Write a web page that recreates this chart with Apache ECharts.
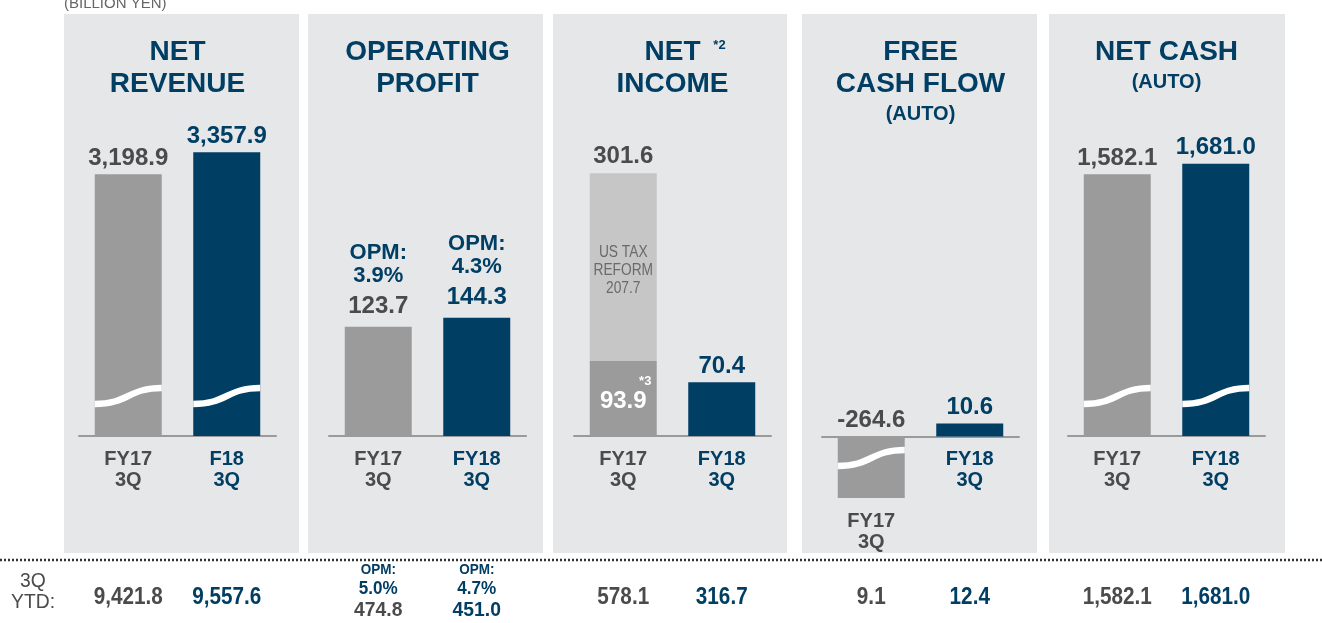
<!DOCTYPE html>
<html>
<head>
<meta charset="utf-8">
<title>3Q results</title>
<script src="https://cdn.jsdelivr.net/npm/echarts@6/dist/echarts.min.js"></script>
<style>
  html, body { margin: 0; padding: 0; background: #fff; }
  #chart { width: 1322px; height: 623px; }
</style>
</head>
<body>
<div id="chart"></div>
<script>
// values (billion yen)
const categories = ['FY17\n3Q', 'FY18\n3Q']
const revenueCategories = ['FY17\n3Q', 'F18\n3Q'] // printed like this on the slide
const netRevenue = [3198.9, 3357.9]
const operatingProfit = [123.7, 144.3]
const operatingMargin = ['3.9%', '4.3%']
const netIncome = [301.6, 70.4]
const netIncomeExTax = [93.9]
const usTaxReform = [207.7]
const freeCashFlow = [-264.6, 10.6]
const netCash = [1582.1, 1681.0]
const ytdNetRevenue = [9421.8, 9557.6]
const ytdOperatingProfit = [474.8, 451.0]
const ytdOperatingMargin = ['5.0%', '4.7%']
const ytdNetIncome = [578.1, 316.7]
const ytdFreeCashFlow = [9.1, 12.4]
const ytdNetCash = [1582.1, 1681.0]

const NAVY = '#003e64'
const GREY_BAR = '#9b9b9b'
const LIGHT_BAR = '#c6c6c6'
const GREY_TEXT = '#4b4b4b'
const PANEL_BG = '#e6e7e9'
const FONT = '"Liberation Sans", Arial, Helvetica, sans-serif'

const chart = echarts.init(document.getElementById('chart'))

function fmt(v) {
  return v.toLocaleString('en-US', { minimumFractionDigits: 1, maximumFractionDigits: 1 })
}

// layout of the five panels (axis ranges chosen to mimic the slide's bar heights)
const panels = [
  { box: [64, 299], left: 79, bottom: 436, min: 1308, max: 3736, base: 1308,
    cats: revenueCategories, values: netRevenue, broken: [true, true], ytd: ytdNetRevenue },
  { box: [308, 543], left: 329, bottom: 436, min: -126.6, max: 642.8, base: -126.6, gap: 20,
    cats: categories, values: operatingProfit, broken: [false, false], margin: operatingMargin,
    ytd: ytdOperatingProfit, ytdMargin: ytdOperatingMargin },
  { box: [553, 787], left: 574, bottom: 436, min: 11, max: 382.7, base: 11,
    cats: categories, values: [netIncomeExTax[0], netIncome[1]], broken: [false, false], stack: true,
    ytd: ytdNetIncome },
  { box: [802, 1037], left: 822, bottom: 498, min: -50.2, max: 274.5, base: 0,
    cats: categories, values: freeCashFlow, broken: [true, false], ytd: ytdFreeCashFlow },
  { box: [1049, 1285], left: 1068, bottom: 436, min: -836, max: 2269, base: -836,
    cats: categories, values: netCash, broken: [true, true], ytd: ytdNetCash }
]

const GRID_TOP = 100
const GRID_W = 197
const YTD_Y = 598

function txt(text, x, y, size, color, extra, props) {
  return Object.assign({
    type: 'text', x: x, y: y,
    style: Object.assign({
      text: text, fill: color, fontSize: size, fontWeight: 'bold', fontFamily: FONT,
      align: 'center', verticalAlign: 'middle'
    }, extra || {})
  }, props || {})
}

function renderBars(p, kind) {
  return function (params, api) {
    const cat = api.value(0)
    const end = api.value(1)
    const start = kind === 'tax' ? api.value(2) : p.base
    const cs = params.coordSys
    const bw = api.size([1, 0])[0] * 0.68
    const pe = api.coord([cat, end])
    const ps = api.coord([cat, start])
    const cx = pe[0]
    const top = Math.min(pe[1], ps[1])
    const y0 = Math.max(top, cs.y)
    const y1 = Math.min(Math.max(pe[1], ps[1]), cs.y + cs.height)
    const color = cat === 0 ? GREY_TEXT : NAVY
    const kids = [{
      type: 'rect',
      shape: { x: cx - bw / 2, y: y0, width: bw, height: y1 - y0 },
      style: { fill: api.visual('color') }
    }]

    if (kind === 'tax') {
      kids.push(txt(fmt(end), cx, top - 17, 24, GREY_TEXT))
      kids.push(txt('US TAX\nREFORM\n' + fmt(usTaxReform[0]), cx, (y0 + y1) / 2 + 3, 16, '#6a6a6a',
        { fontWeight: 'normal', lineHeight: 18 }, { scaleX: 0.86 }))
      return { type: 'group', children: kids }
    }

    if (p.broken[cat]) {
      const x0 = cx - bw / 2
      const yl = y1 - 32
      const yr = y1 - 48
      kids.push({
        type: 'bezierCurve',
        shape: { x1: x0, y1: yl, cpx1: x0 + bw * 0.5, cpy1: yl, cpx2: x0 + bw * 0.5, cpy2: yr, x2: x0 + bw, y2: yr },
        style: { stroke: '#fff', lineWidth: 6.5, fill: null }
      })
    }

    if (p.stack && cat === 0) {
      const mid = (y0 + y1) / 2 + 3
      kids.push(txt(fmt(end), cx, mid, 24, '#fff'))
      kids.push(txt('*3', cx + 22, mid - 20, 13, '#fff'))
    } else {
      kids.push(txt(fmt(end), cx, top - (p.gap || 16), 24, color))
    }

    if (p.margin) {
      kids.push(txt('OPM:\n' + p.margin[cat], cx, top - 62, 22, NAVY, { lineHeight: 23 }))
    }

    // category label under the bar / axis
    kids.push(txt(p.cats[cat], cx, y1 + 13, 20, color, { verticalAlign: 'top', lineHeight: 21 }))

    // 3Q year-to-date row
    if (p.ytdMargin) {
      kids.push(txt('OPM:', cx, 570, 15, NAVY, null, { scaleX: 0.9 }))
      kids.push(txt(p.ytdMargin[cat], cx, 589, 19, NAVY, null, { scaleX: 0.9 }))
      kids.push(txt(fmt(p.ytd[cat]), cx, 610, 21, color, null, { scaleX: 0.92 }))
    } else {
      kids.push(txt(fmt(p.ytd[cat]), cx, YTD_Y, 23, color, null, { scaleX: 0.9 }))
    }
    return { type: 'group', children: kids }
  }
}

const grid = []
const xAxis = []
const yAxis = []
const series = []

panels.forEach((p, gi) => {
  grid.push({ left: p.left, top: GRID_TOP, width: GRID_W, height: p.bottom - GRID_TOP })
  xAxis.push({
    type: 'category', gridIndex: gi, data: p.cats,
    axisLine: { show: true, onZero: p.base === 0, lineStyle: { color: '#9a9a9a', width: 2 } },
    axisTick: { show: false },
    axisLabel: { show: false }
  })
  yAxis.push({ type: 'value', gridIndex: gi, min: p.min, max: p.max, show: false, splitLine: { show: false } })

  if (p.stack) {
    series.push({
      type: 'custom', xAxisIndex: gi, yAxisIndex: gi, clip: false, z: 2,
      encode: { x: 0, y: 1 },
      data: [{ value: [0, netIncome[0], netIncomeExTax[0]], itemStyle: { color: LIGHT_BAR } }],
      renderItem: renderBars(p, 'tax')
    })
  }
  series.push({
    type: 'custom', xAxisIndex: gi, yAxisIndex: gi, clip: false, z: 3,
    encode: { x: 0, y: 1 },
    data: p.values.map((v, i) => ({ value: [i, v], itemStyle: { color: i === 0 ? GREY_BAR : NAVY } })),
    renderItem: renderBars(p, 'main')
  })
})

const graphic = []
panels.forEach((p) => {
  graphic.push({
    type: 'rect', z: -10, silent: true,
    shape: { x: p.box[0], y: 14, width: p.box[1] - p.box[0], height: 539 },
    style: { fill: PANEL_BG }
  })
})
const cx = panels.map((p) => p.left + GRID_W / 2)
graphic.push(txt('NET\nREVENUE', cx[0], 68.5, 28, NAVY, { lineHeight: 32 }))
graphic.push(txt('OPERATING\nPROFIT', cx[1], 68.5, 28, NAVY, { lineHeight: 32 }))
graphic.push(txt('NET\nINCOME', cx[2], 68.5, 28, NAVY, { lineHeight: 32 }))
graphic.push(txt('*2', cx[2] + 47, 45, 13, NAVY))
graphic.push(txt('FREE\nCASH FLOW', cx[3], 68.5, 28, NAVY, { lineHeight: 32 }))
graphic.push(txt('(AUTO)', cx[3], 114, 20, NAVY))
graphic.push(txt('NET CASH', cx[4], 52.5, 28, NAVY))
graphic.push(txt('(AUTO)', cx[4], 82, 20, NAVY))
graphic.push(txt('(BILLION YEN)', 64, 4, 15, '#666', { align: 'left', fontWeight: 'normal' }))
graphic.push({
  type: 'line',
  shape: { x1: 0, y1: 560, x2: 1322, y2: 560 },
  style: { stroke: '#333', lineWidth: 2.5, lineDash: [2, 2] }
})
graphic.push(txt('3Q\nYTD:', 33, 592, 21, GREY_TEXT, { lineHeight: 21, fontWeight: 'normal' }, { scaleX: 0.92 }))

chart.setOption({
  animation: false,
  grid: grid,
  xAxis: xAxis,
  yAxis: yAxis,
  series: series,
  graphic: graphic
})
</script>
</body>
</html>
